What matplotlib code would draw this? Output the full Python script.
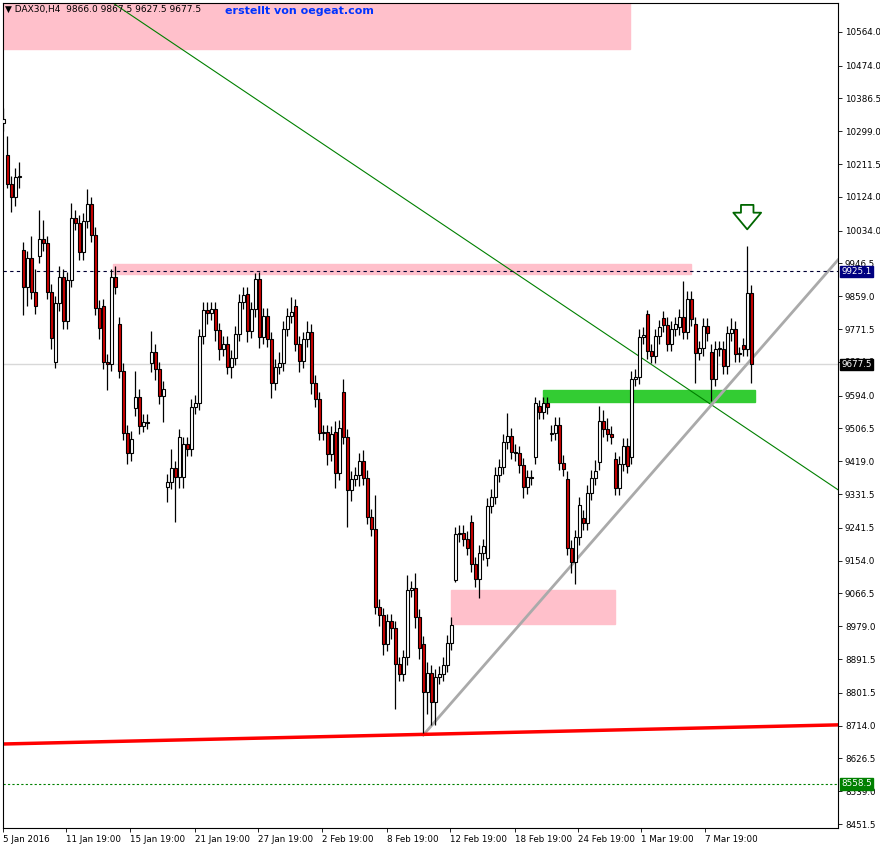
import matplotlib
matplotlib.use('Agg')
import matplotlib.pyplot as plt
from matplotlib.patches import Rectangle

# H4 closes, DAX30, 5 Jan - 8 Mar 2016
closes = [10332, 10159, 10124, 10177, 10177, 9884, 9961, 9871, 9833, 10012,
          10001, 9871, 9748, 9841, 9911, 9793, 9903, 10068, 10055, 9977,
          10060, 10105, 10023, 9828, 9775, 9684, 9679, 9911, 9884, 9660,
          9495, 9441, 9479, 9591, 9513, 9524, 9521, 9711, 9665, 9593,
          9612, 9364, 9401, 9377, 9484, 9465, 9452, 9564, 9575, 9753,
          9823, 9815, 9825, 9769, 9719, 9732, 9671, 9695, 9759, 9844,
          9863, 9767, 9825, 9905, 9751, 9807, 9745, 9628, 9671, 9681,
          9772, 9807, 9817, 9732, 9687, 9745, 9764, 9628, 9585, 9495,
          9497, 9439, 9492, 9388, 9508, 9484, 9343, 9372, 9383, 9420,
          9375, 9271, 9239, 9031, 9009, 8932, 8993, 8974, 8878, 8852,
          8897, 9076, 9081, 9004, 8921, 8804, 8855, 8777, 8844, 8852,
          8876, 8935, 8983, 9225, 9228, 9212, 9188, 9145, 9105, 9175,
          9193, 9300, 9324, 9383, 9404, 9471, 9487, 9444, 9441, 9409,
          9351, 9377, 9375, 9575, 9551, 9575, 9564, 9495, 9516, 9415,
          9399, 9188, 9151, 9217, 9303, 9255, 9335, 9375, 9393, 9527,
          9505, 9492, 9484, 9348, 9412, 9460, 9407, 9639, 9644, 9751,
          9756, 9713, 9700, 9753, 9777, 9783, 9732, 9772, 9785, 9804,
          9764, 9852, 9799, 9708, 9721, 9780, 9761, 9639, 9719, 9719,
          9673, 9761, 9772, 9705, 9705, 9719, 9868, 9679]

# bars whose open differs from the previous close (gaps)
gap_opens = {0: 10320, 1: 10236, 5: 9983, 9: 9967, 13: 9684, 25: 9833, 29: 9785,
             33: 9561, 37: 9681, 41: 9351, 45: 9377, 61: 9865, 73: 9833, 81: 9497,
             83: 9497, 85: 9604, 105: 8932, 107: 8855, 108: 8777, 113: 9103,
             117: 9257, 121: 9161, 133: 9431, 134: 9567, 137: 9492, 141: 9372,
             145: 9268, 149: 9417, 153: 9425, 157: 9431, 161: 9812, 165: 9801,
             169: 9777, 173: 9785, 177: 9711, 185: 9729, 186: 9719}

# wick lengths in points above / below the body
wick_up = [30, 50, 20, 25, 40, 20, 20, 58, 60, 77, 50, 20, 20, 20, 30, 20, 20, 40, 20, 20,
           20, 40, 20, 20, 20, 20, 20, 20, 30, 20, 20, 20, 20, 70, 20, 20, 20, 55, 20, 20,
           20, 20, 50, 20, 20, 20, 20, 20, 20, 20, 20, 20, 20, 20, 20, 20, 20, 20, 20, 20,
           20, 20, 20, 15, 20, 20, 20, 20, 20, 30, 20, 20, 40, 20, 20, 20, 30, 20, 20, 20,
           20, 20, 20, 30, 20, 35, 20, 20, 20, 20, 30, 20, 20, 90, 20, 20, 20, 20, 20, 20,
           20, 40, 20, 40, 20, 20, 30, 20, 20, 20, 20, 20, 20, 20, 20, 20, 20, 20, 20, 20,
           20, 20, 20, 20, 20, 20, 60, 20, 20, 20, 20, 20, 20, 15, 15, 15, 15, 20, 20, 20,
           20, 20, 20, 20, 20, 20, 20, 20, 30, 40, 30, 30, 20, 20, 20, 20, 20, 20, 20, 20,
           20, 10, 20, 20, 20, 20, 20, 20, 20, 20, 96, 20, 20, 20, 20, 20, 20, 20, 20, 20,
           20, 20, 30, 20, 20, 20, 125, 20]
wick_dn = [20, 10, 40, 25, 30, 75, 50, 20, 20, 20, 20, 20, 30, 15, 20, 20, 20, 20, 20, 20,
           20, 20, 20, 20, 30, 20, 70, 20, 20, 20, 20, 30, 20, 20, 20, 15, 15, 25, 30, 20,
           70, 40, 20, 120, 30, 30, 20, 20, 20, 20, 20, 30, 20, 30, 30, 20, 20, 30, 20, 20,
           20, 30, 20, 20, 30, 20, 20, 40, 20, 20, 20, 20, 20, 20, 30, 20, 20, 30, 20, 20,
           20, 30, 20, 40, 20, 20, 100, 30, 20, 30, 20, 20, 20, 20, 30, 30, 20, 30, 120, 20,
           20, 20, 20, 30, 30, 110, 60, 60, 60, 20, 20, 20, 20, 5, 20, 20, 20, 20, 20, 50,
           20, 20, 20, 20, 20, 20, 20, 20, 20, 20, 30, 20, 20, 20, 20, 20, 20, 20, 20, 20,
           20, 20, 30, 60, 20, 20, 20, 20, 20, 20, 20, 20, 20, 20, 20, 20, 20, 20, 20, 20,
           20, 20, 20, 20, 20, 20, 20, 20, 20, 20, 20, 20, 20, 80, 20, 20, 20, 60, 20, 20,
           20, 20, 20, 20, 20, 20, 20, 50]

ytick_vals = [10564.0, 10474.0, 10386.5, 10299.0, 10211.5, 10124.0, 10034.0, 9946.5,
              9859.0, 9771.5, 9684.0, 9594.0, 9506.5, 9419.0, 9331.5, 9241.5, 9154.0,
              9066.5, 8979.0, 8891.5, 8801.5, 8714.0, 8626.5, 8539.0, 8451.5]
xtick_bars = [0, 15.7, 31.7, 48, 63.7, 79.7, 96, 111.7, 128, 143.7, 159.5, 175.5]
xtick_labels = ['5 Jan 2016', '11 Jan 19:00', '15 Jan 19:00', '21 Jan 19:00', '27 Jan 19:00',
                '2 Feb 19:00', '8 Feb 19:00', '12 Feb 19:00', '18 Feb 19:00', '24 Feb 19:00',
                '1 Mar 19:00', '7 Mar 19:00']

fig = plt.figure(figsize=(8.8, 8.48), dpi=100)
ax = fig.add_axes([3 / 880, 20 / 848, 835 / 880, 825 / 848])
ax.set_xlim(-0.1, 208.7)
ax.set_ylim(8441, 10641)

# zones and trend lines
ax.add_patch(Rectangle((-0.1, 10519), 156.7, 122, color='pink', zorder=1))
ax.add_patch(Rectangle((27.4, 9919), 144.5, 26, color='pink', zorder=1))
ax.add_patch(Rectangle((111.9, 8985), 41.0, 91, color='pink', zorder=1))
ax.add_patch(Rectangle((135, 9577), 53, 32, color='#33cc33', zorder=1))
ax.plot([27.4, 208.7], [10641, 9343], color='green', lw=0.8, zorder=2)
ax.plot([105, 208.7], [8689, 9956], color='#aaaaaa', lw=2, zorder=2)
ax.plot([-0.1, 208.7], [8665, 8716], color='red', lw=2.5, zorder=2)
ax.axhline(9925.1, color='#000033', lw=0.8, ls=(0, (3, 3)), zorder=2)
ax.axhline(8558.5, color='green', lw=0.8, ls=(0, (2, 2)), zorder=2)
ax.axhline(9677.5, color='#d8d8d8', lw=1, zorder=1.5)

# candles
prev = closes[0]
for i, c in enumerate(closes):
    o = gap_opens.get(i, prev)
    top, bot = max(o, c), min(o, c)
    ax.vlines(i, bot - wick_dn[i], top + wick_up[i], color='black', lw=0.9, zorder=3)
    ax.bar(i, max(top - bot, 2), bottom=bot, width=0.7,
           color='white' if c >= o else '#cc0000', edgecolor='black', lw=0.8, zorder=4)
    prev = c

# down arrow
ax.annotate('', xy=(186, 10030), xytext=(186, 10110),
            arrowprops=dict(arrowstyle='simple,head_width=2.0,head_length=1.2,tail_width=0.9',
                            fc='white', ec='#006600', lw=1.3), zorder=5)

ax.yaxis.tick_right()
ax.set_yticks(ytick_vals)
ax.set_yticklabels(['%.1f' % v for v in ytick_vals], fontsize=6.3)
ax.set_xticks(xtick_bars)
ax.set_xticklabels(xtick_labels, fontsize=6.3, ha='left')
ax.tick_params(length=3, width=0.6, pad=2)
for s in ax.spines.values():
    s.set_linewidth(0.8)

def price_box(y, txt, bg, fg):
    ax.text(1.004, y, txt, transform=ax.get_yaxis_transform(), fontsize=6.3, va='center',
            ha='left', color=fg, bbox=dict(boxstyle='square,pad=0.15', fc=bg, ec=bg), zorder=6)

price_box(9925.1, '9925.1', '#000080', 'white')
price_box(9677.5, '9677.5', 'black', 'white')
price_box(8558.5, '8558.5', 'green', 'white')

fig.text(5 / 880, 1 - 12 / 848, '\u25bc DAX30,H4  9866.0 9867.5 9627.5 9677.5', fontsize=6.5)
fig.text(225 / 880, 1 - 14 / 848, 'erstellt von oegeat.com', fontsize=8, color='#0033ff',
         fontweight='bold')

fig.savefig('out.png', dpi=100)
